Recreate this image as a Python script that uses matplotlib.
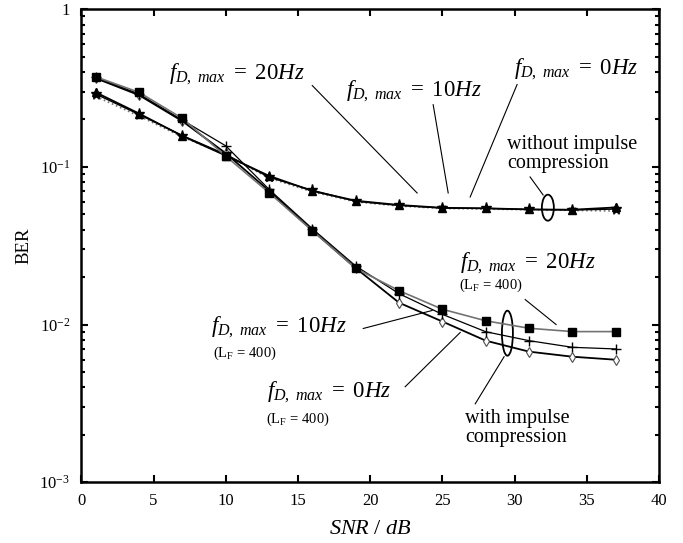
import matplotlib
matplotlib.use("Agg")
import matplotlib.pyplot as plt
import matplotlib.transforms as mtransforms
from matplotlib.patches import Ellipse
from matplotlib.ticker import FixedLocator, FixedFormatter, LogLocator, NullFormatter

plt.rcParams["font.family"] = ["Liberation Serif", "DejaVu Serif"]
plt.rcParams["mathtext.fontset"] = "custom"
plt.rcParams["mathtext.rm"] = "Liberation Serif"
plt.rcParams["mathtext.it"] = "Liberation Serif:italic"

snr = [1, 4, 7, 10, 13, 16, 19, 22, 25, 28, 31, 34, 37]

# without impulse compression
nc_20 = [0.297, 0.218, 0.157, 0.118, 0.0877, 0.0703, 0.061, 0.0573, 0.055, 0.0546, 0.0537, 0.0535, 0.0553]
nc_10 = [0.29, 0.215, 0.158, 0.12, 0.086, 0.071, 0.0605, 0.057, 0.0548, 0.0545, 0.0537, 0.0533, 0.054]
nc_0 = [0.28, 0.21, 0.155, 0.119, 0.085, 0.0695, 0.06, 0.0565, 0.0545, 0.054, 0.0535, 0.053, 0.0525]

# with impulse compression (L_F = 400)
wc_20 = [0.373, 0.297, 0.203, 0.117, 0.0686, 0.0393, 0.0227, 0.0164, 0.0125, 0.01056, 0.00947, 0.00902, 0.00902]
wc_10 = [0.37, 0.29, 0.198, 0.136, 0.072, 0.0405, 0.0235, 0.0157, 0.0116, 0.0090, 0.0079, 0.00717, 0.0070]
wc_0 = [0.365, 0.285, 0.195, 0.122, 0.0705, 0.0395, 0.0228, 0.01375, 0.01045, 0.0079, 0.00673, 0.00625, 0.00598]

y_ticks = [1e-3, 1e-2, 1e-1, 1]
y_labels = [r"$10^{-3}$", r"$10^{-2}$", r"$10^{-1}$", "1"]

fd20 = r"$f_{D,\ max}\ =\ 20Hz$"
fd10 = r"$f_{D,\ max}\ =\ 10Hz$"
fd0 = r"$f_{D,\ max}\ =\ 0Hz$"
lf = r"(L$_\mathrm{F}$ = 400)"

# leader lines: ((x0, y0), (x1, y1)) in data units
leaders = [
    ((15.99, 0.328), (23.25, 0.0683)),
    ((24.36, 0.248), (25.40, 0.0683)),
    ((30.17, 0.333), (26.92, 0.0644)),
    ((31.07, 0.0863), (31.97, 0.0664)),
    ((30.73, 0.0144), (32.87, 0.0100)),
    ((19.52, 0.00944), (24.29, 0.01228)),
    ((22.42, 0.00403), (26.23, 0.0089)),
    ((29.27, 0.00625), (27.27, 0.00314)),
]


def main() -> None:
    fig = plt.figure(figsize=(6.83, 5.43), dpi=100)
    ax = fig.add_axes([0.119, 0.112, 0.846, 0.871])

    ax.plot(snr, nc_0, color="0.45", ls=":", lw=1.2, marker="x", ms=5, mec="0.3", mew=1)
    ax.plot(snr, nc_10, color="k", lw=1.0, marker="*", ms=8, mfc="k", mec="k")
    ax.plot(snr, nc_20, color="k", lw=1.3, marker="^", ms=6, mfc="k", mec="k")

    ax.plot(snr, wc_0, color="k", lw=1.3, marker="d", ms=5, mfc="white", mec="0.3", mew=0.8)
    ax.plot(snr, wc_10, color="k", lw=0.9, marker="+", ms=7, mec="k", mew=1)
    ax.plot(snr, wc_20, color="0.45", lw=1.2, marker="s", ms=6, mfc="k", mec="k")

    for (x0, y0), (x1, y1) in leaders:
        ax.plot([x0, x1], [y0, y1], color="k", lw=0.8)

    # ellipses drawn in inches around a data point
    for cx, cy, w, h in [(32.3, 0.0551, 0.12, 0.26), (29.5, 0.00881, 0.11, 0.45)]:
        trans = fig.dpi_scale_trans + mtransforms.ScaledTranslation(cx, cy, ax.transData)
        ax.add_patch(Ellipse((0, 0), w, h, transform=trans, fill=False, ec="k", lw=1.3))

    big = 16.5
    note = 14.5
    small = 10.5
    ax.text(10.8, 0.385, fd20, fontsize=big, ha="center", va="center")
    ax.text(23.04, 0.30, fd10, fontsize=big, ha="center", va="center")
    ax.text(34.26, 0.415, fd0, fontsize=big, ha="center", va="center")
    ax.text(29.48, 0.121, "without impulse\ncompression", fontsize=note,
            ha="left", va="center", linespacing=1.0)

    ax.text(30.93, 0.0245, fd20, fontsize=big, ha="center", va="center")
    ax.text(28.37, 0.0177, lf, fontsize=small, ha="center", va="center")
    ax.text(13.70, 0.00957, fd10, fontsize=big, ha="center", va="center")
    ax.text(11.35, 0.00653, lf, fontsize=small, ha="center", va="center")
    ax.text(17.16, 0.00369, fd0, fontsize=big, ha="center", va="center")
    ax.text(15.02, 0.00252, lf, fontsize=small, ha="center", va="center")
    ax.text(26.57, 0.00221, "with impulse\ncompression", fontsize=note,
            ha="left", va="center", linespacing=1.0)

    ax.set_yscale("log")
    ax.set_xlim(0, 40)
    ax.set_ylim(1e-3, 1)
    ax.set_xticks(range(0, 41, 5))
    ax.yaxis.set_major_locator(FixedLocator(y_ticks))
    ax.yaxis.set_major_formatter(FixedFormatter(y_labels))
    ax.yaxis.set_minor_locator(LogLocator(base=10, subs=range(2, 10)))
    ax.yaxis.set_minor_formatter(NullFormatter())
    ax.tick_params(which="both", direction="in", top=True, right=True, labelsize=12, width=1.5)
    ax.tick_params(which="major", length=5, pad=8)
    ax.tick_params(which="minor", length=3)
    for s in ax.spines.values():
        s.set_linewidth(1.8)

    ax.set_xlabel(r"$SNR\ /\ dB$", fontsize=16, labelpad=8)
    ax.set_ylabel("BER", fontsize=13.5, labelpad=5)

    fig.savefig("out.png", dpi=100)


if __name__ == "__main__":
    main()
